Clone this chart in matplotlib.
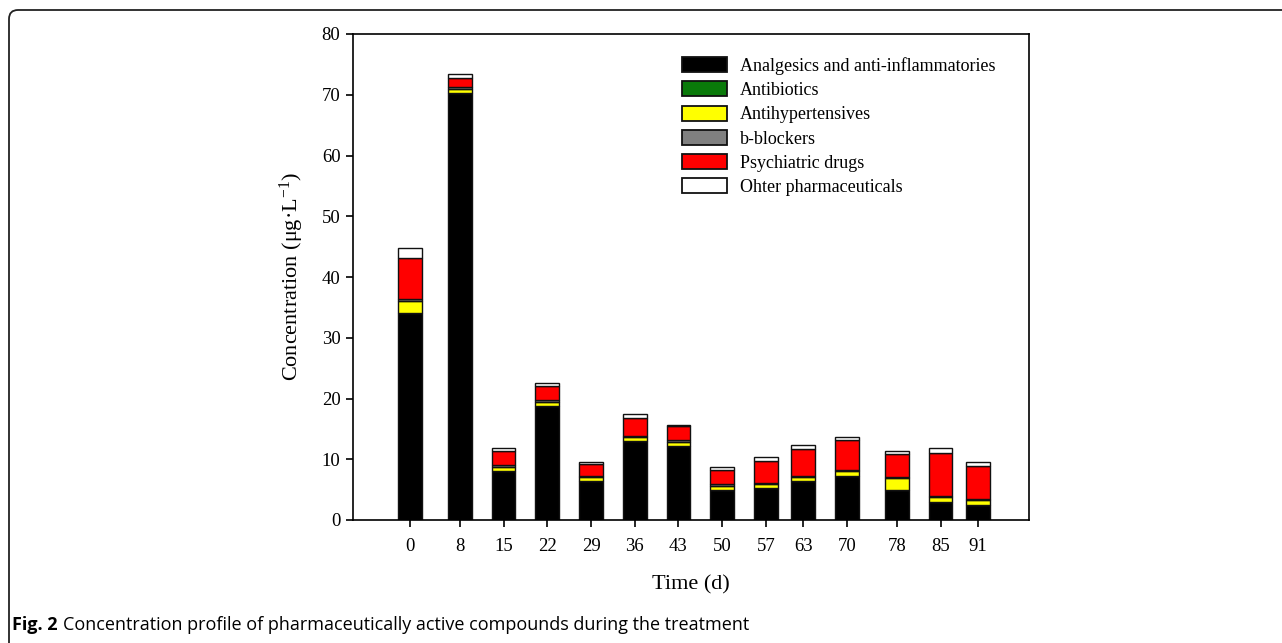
import matplotlib
matplotlib.use("Agg")
import matplotlib.pyplot as plt
from matplotlib.patches import FancyBboxPatch
from matplotlib.transforms import IdentityTransform
import numpy as np

# Sampling days
days = [0, 8, 15, 22, 29, 36, 43, 50, 57, 63, 70, 78, 85, 91]

# Concentrations by therapeutic class (µg/L)
analgesics = [34.1, 70.3, 8.1, 18.8, 6.4, 13.0, 12.2, 5.0, 5.3, 6.4, 7.3, 4.9, 3.0, 2.5]
antibiotics = [0, 0, 0, 0, 0, 0, 0, 0, 0, 0, 0, 0, 0, 0]
antihypertensives = [1.9, 0.7, 0.7, 0.7, 0.7, 0.7, 0.7, 0.6, 0.6, 0.7, 0.7, 2.0, 0.8, 0.8]
b_blockers = [0.4, 0.2, 0.3, 0.3, 0.2, 0.1, 0.2, 0.3, 0.2, 0.2, 0.2, 0.2, 0.2, 0.2]
psychiatric = [6.8, 1.5, 2.2, 2.3, 2.0, 3.0, 2.3, 2.4, 3.6, 4.4, 4.9, 3.8, 7.1, 5.4]
others = [1.6, 0.7, 0.6, 0.5, 0.3, 0.6, 0.3, 0.4, 0.6, 0.6, 0.6, 0.5, 0.7, 0.7]

series_labels = ["Analgesics and anti-inflammatories", "Antibiotics",
                 "Antihypertensives", "b-blockers", "Psychiatric drugs",
                 "Ohter pharmaceuticals"]
series_colors = ["#000000", "#0a7a0a", "#ffff00", "#808080", "#ff0000", "#ffffff"]
y_ticks = [0, 10, 20, 30, 40, 50, 60, 70, 80]

plt.rcParams["font.family"] = ["Liberation Serif", "DejaVu Serif"]
plt.rcParams["mathtext.fontset"] = "custom"
plt.rcParams["mathtext.rm"] = "Liberation Serif"
plt.rcParams["mathtext.it"] = "Liberation Serif:italic"

W, H = 1282, 643
fig = plt.figure(figsize=(W / 100, H / 100), dpi=100)
ax = fig.add_axes([353 / W, 1 - 520 / H, (1029 - 353) / W, (520 - 34) / H])

series = [analgesics, antibiotics, antihypertensives, b_blockers, psychiatric, others]
x = np.array(days, dtype=float)
bottom = np.zeros(len(days))
for vals, lab, col in zip(series, series_labels, series_colors):
    v = np.array(vals, dtype=float)
    ax.bar(x, v, width=3.8, bottom=bottom, color=col, edgecolor="#111111",
           linewidth=1.0, label=lab, zorder=2)
    bottom += v

ax.set_xlim(-9.13, 99.17)
ax.set_ylim(0, 80)
ax.set_xticks(days)
ax.set_xticklabels([str(d) for d in days])
ax.set_yticks(y_ticks)

for s in ax.spines.values():
    s.set_linewidth(1.2)
ax.tick_params(axis="both", direction="out", length=5, width=1.2,
               labelsize=13.5, pad=4)
ax.tick_params(axis="x", pad=8)

ax.set_xlabel("Time (d)", fontsize=16)
ax.xaxis.set_label_coords(0.5, -0.134)
ax.xaxis.label.set_va("center")
ax.set_ylabel("Concentration (\u03bcg\u00b7L$^{\\mathrm{-1}}$)", fontsize=16)
ax.yaxis.set_label_coords(-0.09, 0.5)
ax.yaxis.label.set_va("center")

leg = ax.legend(loc="upper left", bbox_to_anchor=((682 - 353) / 676, (520 - 57) / 486),
                frameon=False, fontsize=13, handlelength=2.5, handleheight=0.9,
                handletextpad=0.7, labelspacing=0.36, borderpad=0, borderaxespad=0)
for h in leg.legend_handles:
    h.set_linewidth(1.3)

# Rounded frame around the figure (top and left edges visible)
frame = FancyBboxPatch((9, -60), 1400, 643 - 10 + 60,
                       boxstyle="round,pad=0,rounding_size=9",
                       transform=IdentityTransform(), facecolor="none",
                       edgecolor="#222222", linewidth=1.3, clip_on=False)
fig.patches.append(frame)

# Caption
cap_y = 1 - 625 / H
t1 = fig.text(12 / W, cap_y, "Fig. 2", fontsize=13, fontweight="bold",
              family="Open Sans", va="center", ha="left")
fig.canvas.draw()
bb = t1.get_window_extent()
fig.text((bb.x1 + 5) / W, cap_y,
         "Concentration profile of pharmaceutically active compounds during the treatment",
         fontsize=13, family="Open Sans", va="center", ha="left")

fig.savefig("out.png", dpi=100)
